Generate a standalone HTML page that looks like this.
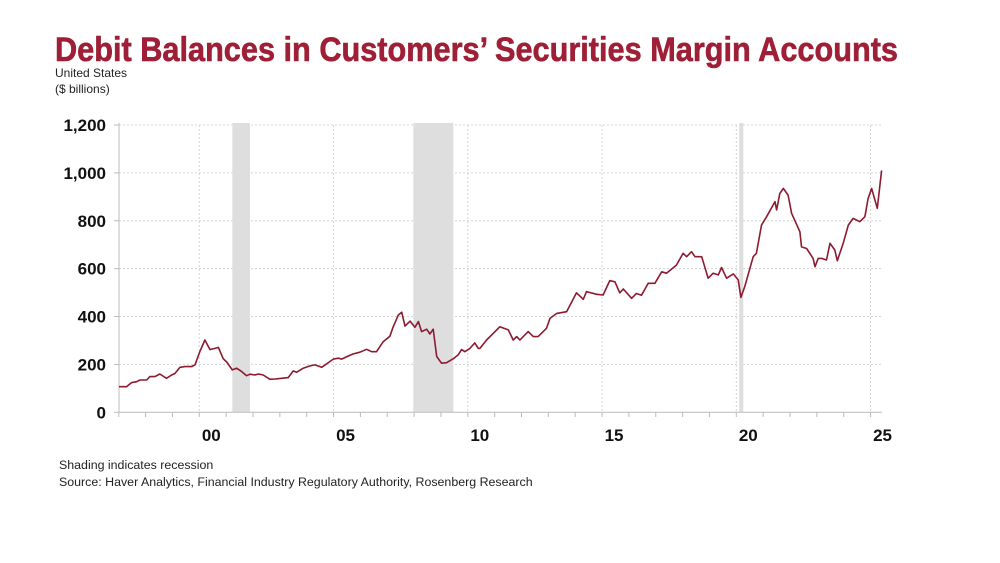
<!DOCTYPE html>
<html><head><meta charset="utf-8"><style>
body{margin:0;background:#fff;width:1000px;height:563px;overflow:hidden;font-family:"Liberation Sans",sans-serif}
svg{display:block}
</style></head><body>
<svg id="chart" width="1000" height="563" viewBox="0 0 1000 563" xmlns="http://www.w3.org/2000/svg">
<text x="55" y="61" font-family="'Liberation Sans Narrow','Liberation Sans',sans-serif" font-weight="bold" font-size="34" fill="#9e1f36" stroke="#9e1f36" stroke-width="0.6" textLength="843" lengthAdjust="spacingAndGlyphs">Debit Balances in Customers’ Securities Margin Accounts</text>
<text x="55" y="77" font-size="12" fill="#222">United States</text>
<text x="55" y="93" font-size="12" fill="#222">($ billions)</text>
<g id="grid"></g><g id="rec"></g><g id="axes"></g><g id="series"></g>
<text x="59" y="469" font-size="12.4" fill="#222">Shading indicates recession</text>
<text x="59" y="486" font-size="12.4" fill="#222">Source: Haver Analytics, Financial Industry Regulatory Authority, Rosenberg Research</text>
</svg>
<script>
const yTicks=[0,200,400,600,800,1000,1200];
const yTickLabels=["0","200","400","600","800","1,000","1,200"];
const xTicks=[2000,2005,2010,2015,2020,2025];
const xTickLabels=["00","05","10","15","20","25"];
const recStart=[2001.23,2007.97,2020.11];
const recEnd=[2001.89,2009.46,2020.26];
const years=[1997.01,1997.29,1997.48,1997.67,1997.79,1998.04,1998.16,1998.35,1998.53,1998.78,1998.97,1999.09,1999.28,1999.47,1999.71,1999.84,2000.02,2000.21,2000.40,2000.58,2000.71,2000.89,2001.02,2001.23,2001.39,2001.58,2001.76,2001.89,2002.07,2002.20,2002.38,2002.63,2002.82,2003.07,2003.31,2003.50,2003.62,2003.87,2004.12,2004.31,2004.56,2004.74,2004.99,2005.18,2005.30,2005.55,2005.74,2005.98,2006.23,2006.42,2006.60,2006.85,2007.10,2007.22,2007.41,2007.54,2007.66,2007.85,2008.03,2008.16,2008.28,2008.47,2008.59,2008.71,2008.84,2009.02,2009.21,2009.46,2009.65,2009.77,2009.89,2010.08,2010.26,2010.39,2010.45,2010.70,2011.19,2011.51,2011.69,2011.82,2011.94,2012.25,2012.44,2012.62,2012.93,2013.06,2013.31,2013.68,2014.05,2014.30,2014.42,2014.80,2015.04,2015.29,2015.48,2015.66,2015.79,2016.10,2016.28,2016.47,2016.60,2016.72,2016.97,2017.22,2017.40,2017.77,2018.02,2018.15,2018.33,2018.46,2018.71,2018.95,2019.14,2019.33,2019.45,2019.64,2019.89,2020.07,2020.17,2020.32,2020.63,2020.75,2020.94,2021.13,2021.44,2021.50,2021.62,2021.75,2021.93,2022.06,2022.37,2022.43,2022.62,2022.86,2022.93,2023.05,2023.18,2023.36,2023.49,2023.67,2023.76,2023.98,2024.17,2024.35,2024.60,2024.79,2024.91,2025.04,2025.25,2025.41];
const values=[107,107,124,128,135,135,149,149,160,142,156,162,188,191,191,198,253,302,262,267,271,224,210,177,184,170,153,159,156,160,156,138,139,142,145,173,167,184,194,198,188,202,222,226,222,235,244,251,263,253,253,295,318,357,406,418,360,381,355,379,337,347,327,347,233,205,207,224,241,262,253,267,290,267,267,302,357,344,302,316,302,337,316,316,351,392,413,420,499,472,504,493,490,550,545,499,515,476,496,489,515,539,539,587,581,615,664,650,671,650,650,560,581,574,605,560,578,553,480,527,650,664,782,817,880,845,914,935,907,831,754,691,684,643,608,643,643,636,706,678,633,706,782,810,796,817,893,935,852,1010];
const NS="http://www.w3.org/2000/svg";
const X=y=>199.3+(y-2000)*26.85;
const Y=v=>412.3-v*(287.3/1200);
const x0=119,x1=882;
function mk(tag,attrs,parent){const e=document.createElementNS(NS,tag);for(const k in attrs)e.setAttribute(k,attrs[k]);document.getElementById(parent).appendChild(e);return e;}
yTicks.forEach((t,i)=>{
 if(t>0){const g=mk('line',{x1:x0,x2:x1,y1:Y(t),y2:Y(t),stroke:'#d4d4d4','stroke-dasharray':'2,2'},'grid');
 
 }
 const tk=mk('line',{x1:x0-5,x2:x0,y1:Y(t),y2:Y(t),stroke:'#bbb'},'axes');
 
 
 const tx=mk('text',{x:106,y:Y(t)+6,'text-anchor':'end','font-size':'17','font-weight':'bold',fill:'#111'},'axes');
 tx.textContent=yTickLabels[i];
 
 
});
xTicks.forEach((t,i)=>{
 const g=mk('line',{x1:X(t),x2:X(t),y1:125,y2:412.3,stroke:'#d4d4d4','stroke-dasharray':'2,2'},'grid');
 
 
 const tx=mk('text',{x:X(t)+12,y:441,'text-anchor':'middle','font-size':'17','font-weight':'bold',fill:'#111'},'axes');
 tx.textContent=xTickLabels[i];
 
 
});
for(let yr=1997;yr<=2025;yr++){
 const tk=mk('line',{x1:X(yr),x2:X(yr),y1:412.3,y2:417,stroke:'#bbb'},'axes');
 
 
}
recStart.forEach((s,i)=>{
 const r=mk('rect',{x:X(s),y:123,width:X(recEnd[i])-X(s),height:289.3,fill:'#dedede'},'rec');
 
 
});
const ax=mk('line',{x1:x0,x2:x0,y1:123,y2:412.3,stroke:'#bbb'},'axes');


const bx=mk('line',{x1:x0,x2:x1,y1:412.3,y2:412.3,stroke:'#bbb'},'axes');


const d=years.map((y,i)=>(i?'L':'M')+X(y).toFixed(1)+','+Y(values[i]).toFixed(1)).join('');
const p=mk('path',{d:d,fill:'none',stroke:'#8c1b30','stroke-width':'1.6','stroke-linejoin':'round'},'series');


</script>
</body></html>
